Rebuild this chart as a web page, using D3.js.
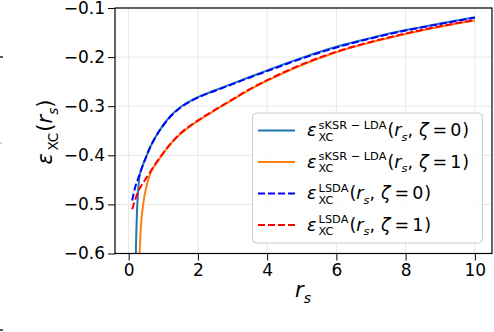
<!DOCTYPE html>
<html>
<head>
<meta charset="utf-8">
<script src="https://cdn.jsdelivr.net/npm/d3@7"></script>
<style>
  body { margin: 0; background: #fff; }
  svg text { font-family: "DejaVu Sans", sans-serif; fill: #000; }
</style>
</head>
<body>
<div id="chart"></div>
<script>
// values (r_s on x, eps_xc on y)
var rsLsda = [0.1, 0.2, 0.3, 0.4, 0.5, 0.63, 0.75, 1, 1.25, 1.5, 1.75, 2, 2.5, 3, 3.5, 4, 5, 6, 7, 8, 9, 10];
var lsdaZeta0 = [-0.492, -0.462, -0.442, -0.422, -0.404, -0.382, -0.366, -0.339, -0.318, -0.3025, -0.2915, -0.2825, -0.2685, -0.255, -0.2415, -0.2285, -0.203, -0.1805, -0.162, -0.146, -0.1325, -0.120];
var lsdaZeta1 = [-0.510, -0.488, -0.470, -0.458, -0.447, -0.433, -0.420, -0.395, -0.373, -0.355, -0.341, -0.329, -0.307, -0.286, -0.265, -0.247, -0.215, -0.189, -0.169, -0.152, -0.137, -0.1245];

var rsKsr0 = [0.2, 0.21, 0.22, 0.24, 0.26, 0.28, 0.3, 0.33, 0.4, 0.5, 0.63, 0.75, 1, 1.25, 1.5, 1.75, 2, 2.5, 3, 3.5, 4, 5, 6, 7, 8, 9, 10];
var ksrZeta0 = [-0.63, -0.59, -0.56, -0.515, -0.487, -0.466, -0.450, -0.437, -0.422, -0.404, -0.382, -0.366, -0.338, -0.317, -0.3015, -0.2905, -0.2815, -0.2675, -0.254, -0.2405, -0.227, -0.2015, -0.179, -0.161, -0.145, -0.1315, -0.119];

var rsKsr1 = [0.3, 0.32, 0.34, 0.37, 0.4, 0.45, 0.5, 0.6, 0.7, 0.75, 1, 1.25, 1.5, 1.75, 2, 2.5, 3, 3.5, 4, 5, 6, 7, 8, 9, 10];
var ksrZeta1 = [-0.63, -0.59, -0.56, -0.53, -0.51, -0.485, -0.468, -0.442, -0.426, -0.421, -0.396, -0.374, -0.356, -0.342, -0.330, -0.308, -0.287, -0.266, -0.248, -0.216, -0.190, -0.170, -0.153, -0.138, -0.1255];

var xTicks = [0, 2, 4, 6, 8, 10];
var yTicks = [-0.6, -0.5, -0.4, -0.3, -0.2, -0.1];

var series = [
  {rs: rsKsr0, v: ksrZeta0, color: "#1f77b4", dash: null, sup: "sKSR \u2212 LDA", z: "0"},
  {rs: rsKsr1, v: ksrZeta1, color: "#ff7f0e", dash: null, sup: "sKSR \u2212 LDA", z: "1"},
  {rs: rsLsda, v: lsdaZeta0, color: "#0000ff", dash: "7,3", sup: "LSDA", z: "0"},
  {rs: rsLsda, v: lsdaZeta1, color: "#ff0000", dash: "7,3", sup: "LSDA", z: "1"}
];

var W = 494, H = 332;
var pLeft = 115, pRight = 492, pTop = 8, pBottom = 253.5;

var svg = d3.select("#chart").append("svg")
  .attr("width", W).attr("height", H);

var x = d3.scaleLinear().domain([-0.395, 10.495]).range([pLeft, pRight]);
var y = d3.scaleLinear().domain([-0.6, -0.1]).range([pBottom, pTop]);

// little marks on the left border of the crop
svg.append("line").attr("x1", 0).attr("x2", 3).attr("y1", 57).attr("y2", 57).attr("stroke", "#222").attr("stroke-width", 1.5);
svg.append("line").attr("x1", 0).attr("x2", 2).attr("y1", 143).attr("y2", 143).attr("stroke", "#aaa").attr("stroke-width", 1);
svg.append("line").attr("x1", 0).attr("x2", 3).attr("y1", 330).attr("y2", 330).attr("stroke", "#222").attr("stroke-width", 1.5);

// grid
svg.append("g").selectAll("line").data(xTicks).enter().append("line")
  .attr("x1", d => x(d)).attr("x2", d => x(d))
  .attr("y1", pTop).attr("y2", pBottom)
  .attr("stroke", "#e6e6e6").attr("stroke-width", 1);
svg.append("g").selectAll("line").data(yTicks).enter().append("line")
  .attr("x1", pLeft).attr("x2", pRight)
  .attr("y1", d => y(d)).attr("y2", d => y(d))
  .attr("stroke", "#e6e6e6").attr("stroke-width", 1);

svg.append("clipPath").attr("id", "clip").append("rect")
  .attr("x", pLeft).attr("y", pTop).attr("width", pRight - pLeft).attr("height", pBottom - pTop);

var line = d3.line().curve(d3.curveMonotoneX);

var plot = svg.append("g").attr("clip-path", "url(#clip)");
series.forEach(function(s) {
  var pts = s.rs.map((r, i) => [x(r), y(s.v[i])]);
  plot.append("path")
    .attr("d", line(pts))
    .attr("fill", "none")
    .attr("stroke", s.color)
    .attr("stroke-width", 2)
    .attr("stroke-dasharray", s.dash);
});

// axes
var xAxis = svg.append("g")
  .attr("transform", "translate(0," + pBottom + ")")
  .call(d3.axisBottom(x).tickValues(xTicks).tickSize(7).tickPadding(3).tickFormat(d3.format("d")));
var yAxis = svg.append("g")
  .attr("transform", "translate(" + pLeft + ",0)")
  .call(d3.axisLeft(y).tickValues(yTicks).tickSize(7).tickPadding(3).tickFormat(d3.format(".1f")));
[xAxis, yAxis].forEach(function(a) {
  a.select(".domain").remove();
  a.selectAll("line").attr("stroke", "#000").attr("stroke-width", 1);
  a.selectAll("text").style("font-family", "DejaVu Sans").style("font-size", "17px");
});

// frame
svg.append("rect")
  .attr("x", pLeft).attr("y", pTop).attr("width", pRight - pLeft).attr("height", pBottom - pTop)
  .attr("fill", "none").attr("stroke", "#000").attr("stroke-width", 1.2);

// helper: write pieces one after the other, returns width
function piece(g, cx, by, str, size, italic, dy) {
  var t = g.append("text")
    .attr("x", cx).attr("y", by + (dy || 0))
    .style("font-size", size + "px")
    .style("font-style", italic ? "italic" : "normal")
    .text(str);
  return t.node().getComputedTextLength();
}

function epsLabel(g, x0, by, sup, z, fs) {
  var cx = x0;
  cx += piece(g, cx, by, "\u03b5", fs, true) + fs * 0.12;
  var small = fs * 0.65;
  var w1 = sup ? piece(g, cx, by, sup, small, false, -fs * 0.42) : 0;
  var w2 = piece(g, cx, by, "XC", small, false, fs * 0.28);
  cx += Math.max(w1, w2) + 1;
  cx += piece(g, cx, by, "(", fs, false);
  cx += piece(g, cx, by, "r", fs, true);
  cx += piece(g, cx, by, "s", small, true, fs * 0.28);
  if (z !== null) {
    cx += piece(g, cx, by, ",", fs, false) + 6;
    cx += piece(g, cx, by, "\u03b6", fs, true) + 4;
    cx += piece(g, cx, by, "=", fs, false) + 3;
    cx += piece(g, cx, by, z, fs, false) + 1;
  }
  cx += piece(g, cx, by, ")", fs, false);
  return cx - x0;
}

// legend
var leg = svg.append("g");
leg.append("rect")
  .attr("x", 252.5).attr("y", 113).attr("width", 230).attr("height", 130)
  .attr("rx", 4)
  .attr("fill", "#fff").attr("fill-opacity", 0.8)
  .attr("stroke", "#cccccc").attr("stroke-width", 1);
series.forEach(function(s, i) {
  var cy = 130.5 + i * 31.5;
  leg.append("line")
    .attr("x1", 258).attr("x2", 295).attr("y1", cy).attr("y2", cy)
    .attr("stroke", s.color).attr("stroke-width", 2)
    .attr("stroke-dasharray", s.dash);
  epsLabel(leg.append("g"), 307, cy + 5.5, s.sup, s.z, 17.5);
});

// axis labels
var yl = svg.append("g");
var ylw = epsLabel(yl.append("g").attr("class", "inner"), 0, 0, null, null, 21);
yl.select(".inner").attr("transform", "translate(" + (-ylw / 2) + ",0)");
yl.attr("transform", "translate(52,132) rotate(-90)");

var xl = svg.append("g");
var xlw = 0;
xlw += piece(xl, xlw, 0, "r", 21, true);
xlw += piece(xl, xlw, 0, "s", 14, true, 6);
xl.attr("transform", "translate(" + (303 - xlw / 2) + ",297)");
</script>
</body>
</html>
